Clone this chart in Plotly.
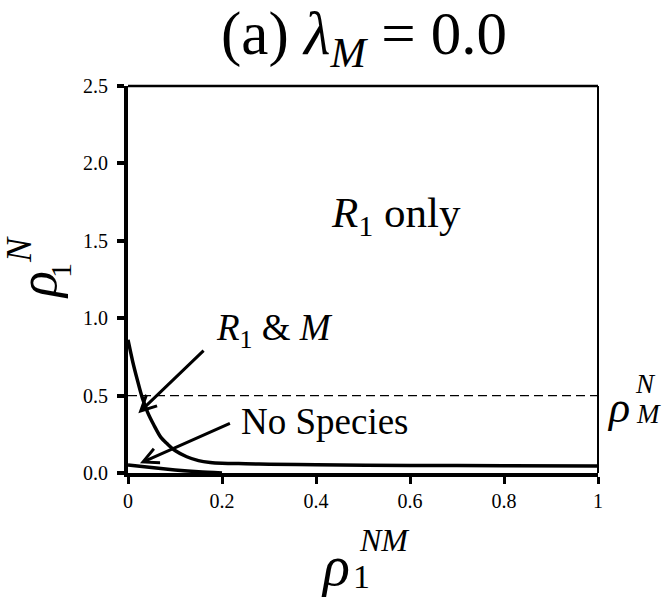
import plotly.graph_objects as go

# Boundary between "R1 & M" and "R1 only" regions
r1m_x = [0, 0.01, 0.02, 0.03, 0.042, 0.055, 0.07, 0.083, 0.1, 0.125, 0.15, 0.175,
         0.2, 0.25, 0.3, 0.4, 0.6, 0.8, 1.0]
r1m_y = [0.86, 0.72, 0.60, 0.49, 0.39, 0.31, 0.23, 0.19, 0.145, 0.105, 0.08, 0.068,
         0.063, 0.06, 0.057, 0.053, 0.049, 0.047, 0.045]

# Boundary of the "No Species" region
none_x = [0, 0.05, 0.1, 0.15, 0.2]
none_y = [0.052, 0.035, 0.02, 0.008, 0.0]

# Threshold rho_M^N
rho_m_level = 0.5

x_ticks = [0, 0.2, 0.4, 0.6, 0.8, 1]
y_ticks = [0.0, 0.5, 1.0, 1.5, 2.0, 2.5]

FONT = "Liberation Serif"
W, H = 663, 597
L, R, T, B = 128, 65, 86, 124


def px(xp):
    return (xp - L) / (W - L - R)


def py(yp):
    return (H - B - yp) / (H - T - B)


fig = go.Figure()

fig.add_trace(go.Scatter(x=[0, 1], y=[rho_m_level, rho_m_level], mode="lines",
                         line=dict(color="black", width=1.3, dash="9px,5px"),
                         hoverinfo="skip"))
fig.add_trace(go.Scatter(x=r1m_x, y=r1m_y, mode="lines",
                         line=dict(color="black", width=3.5, shape="spline", smoothing=0.8),
                         hoverinfo="skip"))
fig.add_trace(go.Scatter(x=none_x, y=none_y, mode="lines",
                         line=dict(color="black", width=3.5, shape="spline", smoothing=0.8),
                         hoverinfo="skip"))

annotations = []


def label(text, xp, yp, size, angle=0, xanchor="center"):
    annotations.append(dict(text=text, x=px(xp), y=py(yp), xref="paper", yref="paper",
                            showarrow=False, xanchor=xanchor, yanchor="middle",
                            textangle=angle, font=dict(family=FONT, size=size, color="black")))


def arrow(x0, y0, x1, y1):
    annotations.append(dict(text="", x=x1, y=y1, ax=x0, ay=y0, xref="x", yref="y",
                            axref="x", ayref="y", showarrow=True, arrowhead=5,
                            arrowsize=1, arrowwidth=3, arrowcolor="black"))


# Title
label("(a) <i>λ</i><sub><i>M</i></sub> = 0.0", 364, 38, 61)

# Region labels
label("<i>R</i><sub>1</sub> only", 396, 216, 43)
label("<i>R</i><sub>1</sub> &amp; <i>M</i>", 274, 330, 37)
label("No Species", 325, 421, 37)

arrow(0.164, 0.80, 0.022, 0.386)
arrow(0.22, 0.325, 0.0255, 0.063)

# rho_M^N at the threshold line
label("<i>ρ</i>", 618, 407, 44)
label("<i>N</i>", 645, 384, 27)
label("<i>M</i>", 648, 414, 27)

# x-axis title rho_1^NM
label("<i>ρ</i>", 335, 566, 56)
label("1", 361, 576, 34)
label("<i>NM</i>", 384, 540, 32)

# y-axis title rho_1^N
label("<i>ρ</i>", 38, 285, 54, angle=-90)
label("<i>N</i>", 19, 250, 36, angle=-90)
label("1", 60, 271, 30, angle=-90)

# Thin top and right frame
shapes = [
    dict(type="line", xref="paper", yref="paper", x0=0, x1=1, y0=1, y1=1,
         line=dict(color="black", width=2.5)),
    dict(type="line", xref="paper", yref="paper", x0=1, x1=1, y0=0, y1=1,
         line=dict(color="black", width=2)),
]

fig.update_layout(
    width=W, height=H,
    margin=dict(l=L, r=R, t=T, b=B, pad=0),
    paper_bgcolor="white", plot_bgcolor="white",
    showlegend=False,
    annotations=annotations,
    shapes=shapes,
    xaxis=dict(range=[0, 1], tickvals=x_ticks, ticktext=[f"{v:g}" for v in x_ticks],
               showgrid=False, zeroline=False, showline=True, linecolor="black",
               linewidth=4, ticks="outside", ticklen=7, tickwidth=3, tickcolor="black",
               tickfont=dict(family=FONT, size=20, color="black")),
    yaxis=dict(range=[0, 2.5], tickvals=y_ticks, ticktext=[f"{v:.1f}" for v in y_ticks],
               showgrid=False, zeroline=False, showline=True, linecolor="black",
               linewidth=4, ticks="outside", ticklen=7, tickwidth=3.5, tickcolor="black",
               ticklabelstandoff=5,
               tickfont=dict(family=FONT, size=20, color="black")),
)

fig.write_html("out.html")
